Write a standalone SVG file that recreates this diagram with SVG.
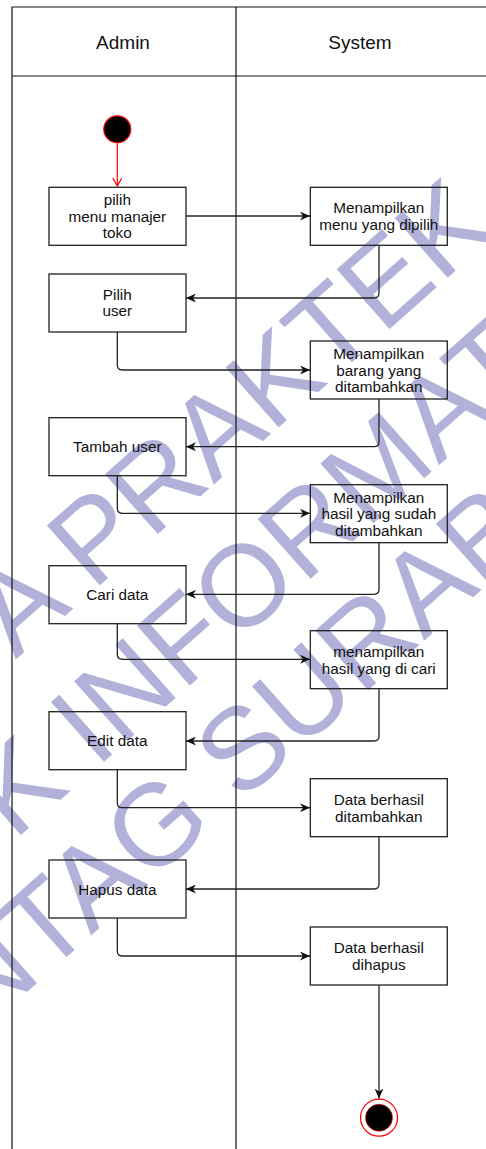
<svg xmlns="http://www.w3.org/2000/svg" width="486" height="1149" viewBox="0 0 486 1149">
  <style>
    .lane { fill: none; stroke: #111; stroke-width: 1.2; }
    .box { fill: none; stroke: #222; stroke-width: 1.3; }
    .edge { fill: none; stroke: #222; stroke-width: 1.3; }
    .lbl { font-family: "Liberation Sans", Arial, sans-serif; font-size: 15.3px; fill: #111; text-anchor: middle; }
    .hdr { font-family: "Liberation Sans", Arial, sans-serif; font-size: 19px; fill: #111; text-anchor: middle; }
    .wm { font-family: "Liberation Sans", Arial, sans-serif; font-size: 116px; fill: #b1b1d9; }
  </style>
  <defs>
    <marker id="arrow" viewBox="0 0 10 9" refX="10" refY="4.5" markerWidth="10" markerHeight="9" markerUnits="userSpaceOnUse" orient="auto">
      <path d="M0,0 L10,4.5 L0,9 L3,4.5 Z" fill="#111"/>
    </marker>
    <marker id="openRed" viewBox="0 0 10 10" refX="9" refY="5" markerWidth="10" markerHeight="10" markerUnits="userSpaceOnUse" orient="auto">
      <path d="M1,0.5 L9,5 L1,9.5" fill="none" stroke="#ff0000" stroke-width="1.2"/>
    </marker>
  </defs>

  <rect width="486" height="1149" fill="#fff"/>

  <!-- diagonal background stamp -->
  <g id="stamp" transform="rotate(-41.5)">
    <text class="wm" x="-425.6" y="504.5">A PRAKTEK</text>
    <text class="wm" x="-547.1" y="639.3">K INFORMATI</text>
    <text class="wm" x="-698.1" y="760.9">NTAG SURABA</text>
  </g>

  <!-- swimlanes -->
  <g id="lanes">
    <path class="lane" d="M12,1149 V7 H486 M12,76 H486 M236,7 V1149"/>
    <text class="hdr" x="123" y="49">Admin</text>
    <text class="hdr" x="360" y="49">System</text>
  </g>

  <!-- connectors -->
  <g id="connectors">
    <path d="M117.3,143.5 V186" fill="none" stroke="#ff0000" stroke-width="1.2" marker-end="url(#openRed)"/>
    <path class="edge" d="M186,216 H310" marker-end="url(#arrow)"/>
    <path class="edge" d="M379,245 V293 Q379,298 374,298 H186" marker-end="url(#arrow)"/>
    <path class="edge" d="M117.3,332 V365 Q117.3,370 122.3,370 H310" marker-end="url(#arrow)"/>
    <path class="edge" d="M379,399 V441.7 Q379,446.7 374,446.7 H186" marker-end="url(#arrow)"/>
    <path class="edge" d="M117.3,476 V508.3 Q117.3,513.3 122.3,513.3 H310" marker-end="url(#arrow)"/>
    <path class="edge" d="M379,542.3 V589.3 Q379,594.3 374,594.3 H186" marker-end="url(#arrow)"/>
    <path class="edge" d="M117.3,623.3 V654.3 Q117.3,659.3 122.3,659.3 H310" marker-end="url(#arrow)"/>
    <path class="edge" d="M379,688.3 V736 Q379,741 374,741 H186" marker-end="url(#arrow)"/>
    <path class="edge" d="M117.3,770 V802.7 Q117.3,807.7 122.3,807.7 H310" marker-end="url(#arrow)"/>
    <path class="edge" d="M379,837 V884 Q379,889 374,889 H186" marker-end="url(#arrow)"/>
    <path class="edge" d="M117.3,918 V951 Q117.3,956 122.3,956 H310" marker-end="url(#arrow)"/>
    <path class="edge" d="M379,985 V1098.5" marker-end="url(#arrow)"/>
  </g>

  <!-- start / end -->
  <g id="start">
    <circle cx="117.3" cy="129.3" r="13.5" fill="#000" stroke="#ff0000" stroke-width="1.2"/>
  </g>
  <g id="end">
    <circle cx="379" cy="1117.7" r="18.5" fill="#fff" stroke="#ff0000" stroke-width="1.2"/>
    <circle cx="379" cy="1117.7" r="13.5" fill="#000" stroke="#ff0000" stroke-width="0.6"/>
  </g>

  <!-- Admin actions -->
  <g id="a1">
    <rect class="box" x="49" y="187.3" width="137" height="58"/>
    <text class="lbl"><tspan x="117.3" y="205">pilih</tspan><tspan x="117.3" y="221.7">menu manajer</tspan><tspan x="117.3" y="238.4">toko</tspan></text>
  </g>
  <g id="a2">
    <rect class="box" x="49" y="274" width="137" height="58"/>
    <text class="lbl"><tspan x="117.3" y="299.5">Pilih</tspan><tspan x="117.3" y="316.2">user</tspan></text>
  </g>
  <g id="a3">
    <rect class="box" x="49" y="417.7" width="137" height="58"/>
    <text class="lbl" x="117.3" y="452.2">Tambah user</text>
  </g>
  <g id="a4">
    <rect class="box" x="49" y="565.7" width="137" height="58"/>
    <text class="lbl" x="117.3" y="600.2">Cari data</text>
  </g>
  <g id="a5">
    <rect class="box" x="49" y="711.7" width="137" height="58"/>
    <text class="lbl" x="117.3" y="746.2">Edit data</text>
  </g>
  <g id="a6">
    <rect class="box" x="49" y="860" width="137" height="58"/>
    <text class="lbl" x="117.3" y="894.5">Hapus data</text>
  </g>

  <!-- System actions -->
  <g id="s1">
    <rect class="box" x="310.3" y="187.3" width="137" height="58"/>
    <text class="lbl"><tspan x="378.8" y="213.3">Menampilkan</tspan><tspan x="378.8" y="230">menu yang dipilih</tspan></text>
  </g>
  <g id="s2">
    <rect class="box" x="310.3" y="341" width="137" height="58"/>
    <text class="lbl"><tspan x="378.8" y="358.8">Menampilkan</tspan><tspan x="378.8" y="375.5">barang yang</tspan><tspan x="378.8" y="392.2">ditambahkan</tspan></text>
  </g>
  <g id="s3">
    <rect class="box" x="310.3" y="484.7" width="137" height="58"/>
    <text class="lbl"><tspan x="378.8" y="502.5">Menampilkan</tspan><tspan x="378.8" y="519.2">hasil yang sudah</tspan><tspan x="378.8" y="535.9">ditambahkan</tspan></text>
  </g>
  <g id="s4">
    <rect class="box" x="310.3" y="630.7" width="137" height="58"/>
    <text class="lbl"><tspan x="378.8" y="656.8">menampilkan</tspan><tspan x="378.8" y="673.5">hasil yang di cari</tspan></text>
  </g>
  <g id="s5">
    <rect class="box" x="310.3" y="778.7" width="137" height="58"/>
    <text class="lbl"><tspan x="378.8" y="804.8">Data berhasil</tspan><tspan x="378.8" y="821.5">ditambahkan</tspan></text>
  </g>
  <g id="s6">
    <rect class="box" x="310.3" y="927" width="137" height="58"/>
    <text class="lbl"><tspan x="378.8" y="953.1">Data berhasil</tspan><tspan x="378.8" y="969.8">dihapus</tspan></text>
  </g>
</svg>
